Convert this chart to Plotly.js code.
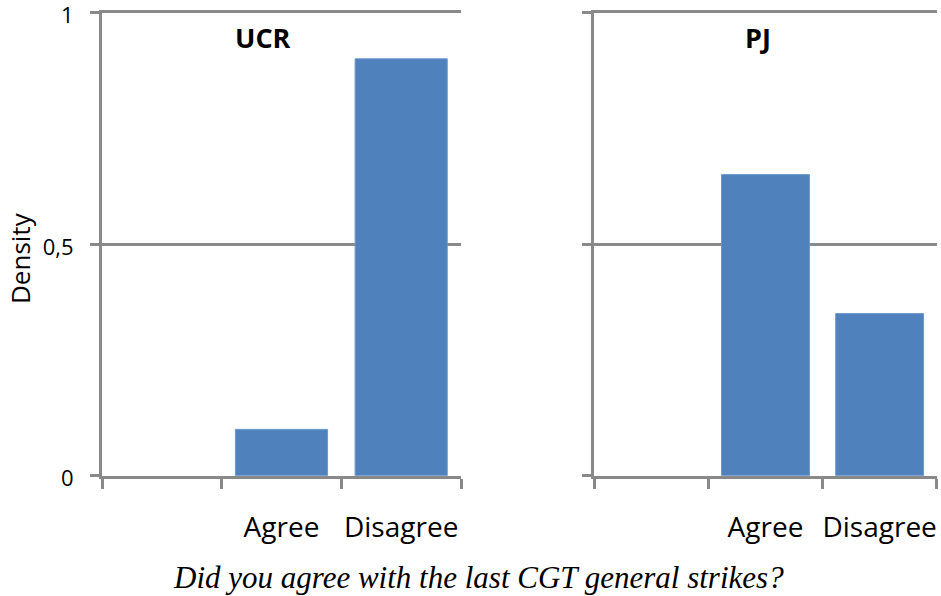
<!DOCTYPE html>
<html>
<head>
<meta charset="utf-8">
<script src="https://cdn.plot.ly/plotly-3.0.1.min.js"></script>
<style>html,body{margin:0;padding:0;background:#fff;}#chart{width:941px;height:596px;}</style>
</head>
<body>
<div id="chart"></div>
<script>
const categories = [' ', 'Agree', 'Disagree'];
const barCategories = ['Agree', 'Disagree'];
const ucrValues = [0.10, 0.90];
const pjValues = [0.65, 0.35];
const panelTitles = ['UCR', 'PJ'];
const yTickVals = [0, 0.5, 1];
const yTickText = ['0', '0,5', '1'];
const yAxisTitle = 'Density';
const xAxisTitle = 'Did you agree with the last CGT general strikes?';

const W = 941, H = 596;
const barColor = '#4F81BD';
const gray = '#898989';
const sans = 'Open Sans, sans-serif';

const traces = [
  {type: 'bar', x: barCategories, y: ucrValues, xaxis: 'x', yaxis: 'y',
   marker: {color: barColor, line: {color: '#6a97cc', width: 1}}, width: 0.77, hoverinfo: 'x+y'},
  {type: 'bar', x: barCategories, y: pjValues, xaxis: 'x2', yaxis: 'y2',
   marker: {color: barColor, line: {color: '#6a97cc', width: 1}}, width: 0.77, hoverinfo: 'x+y'}
];

function xax(domain) {
  return {
    domain: domain, type: 'category', categoryorder: 'array', categoryarray: categories,
    range: [-0.5, 2.5], fixedrange: true,
    showline: true, linecolor: gray, linewidth: 3, mirror: true,
    showgrid: false, zeroline: false,
    ticks: 'outside', tickson: 'boundaries', ticklen: 10, tickwidth: 3, tickcolor: gray,
    tickangle: 0,
    tickfont: {family: sans, size: 28, color: '#000'},
    ticklabelstandoff: 25
  };
}
function yax(domain, anchor, showLabels) {
  return {
    domain: domain, anchor: anchor, range: [0, 1], fixedrange: true,
    tickvals: yTickVals, ticktext: yTickText, showticklabels: showLabels,
    ticklabeloverflow: 'allow', ticklabelshift: 3,
    showline: true, linecolor: gray, linewidth: 3,
    showgrid: true, gridcolor: gray, gridwidth: 3, zeroline: false,
    ticks: 'outside', ticklen: 9, tickwidth: 3, tickcolor: gray,
    tickfont: {family: sans, size: 22, color: '#000'},
    ticklabelstandoff: 12
  };
}

const yDom = [1 - 475.7 / H, 1 - 12.5 / H];
const layout = {
  width: W, height: H,
  margin: {l: 0, r: 0, t: 0, b: 0},
  paper_bgcolor: '#fff', plot_bgcolor: '#fff',
  showlegend: false,
  separators: ',.',
  xaxis: Object.assign(xax([102 / W, 461 / W]), {anchor: 'y'}),
  xaxis2: Object.assign(xax([594.3 / W, 936.7 / W]), {anchor: 'y2'}),
  yaxis: yax(yDom, 'x', true),
  yaxis2: yax(yDom, 'x2', false),
  annotations: [
    {text: '<b>' + panelTitles[0] + '</b>', xref: 'paper', yref: 'paper', x: 263 / W, y: 1 - 37 / H,
     showarrow: false, font: {family: sans, size: 27, color: '#000'}, xanchor: 'center', yanchor: 'middle'},
    {text: '<b>' + panelTitles[1] + '</b>', xref: 'paper', yref: 'paper', x: 758 / W, y: 1 - 37 / H,
     showarrow: false, font: {family: sans, size: 27, color: '#000'}, xanchor: 'center', yanchor: 'middle'},
    {text: yAxisTitle, xref: 'paper', yref: 'paper', x: 20 / W, y: 1 - 258 / H, textangle: -90,
     showarrow: false, font: {family: sans, size: 26, color: '#000'}, xanchor: 'center', yanchor: 'middle'},
    {text: '<i>' + xAxisTitle + '</i>', xref: 'paper', yref: 'paper', x: 478 / W, y: 1 - 577 / H,
     showarrow: false, font: {family: 'Liberation Serif, Times New Roman, serif', size: 31, color: '#000'},
     xanchor: 'center', yanchor: 'middle'}
  ]
};

Plotly.newPlot('chart', traces, layout, {displayModeBar: false, staticPlot: true});
</script>
</body>
</html>
